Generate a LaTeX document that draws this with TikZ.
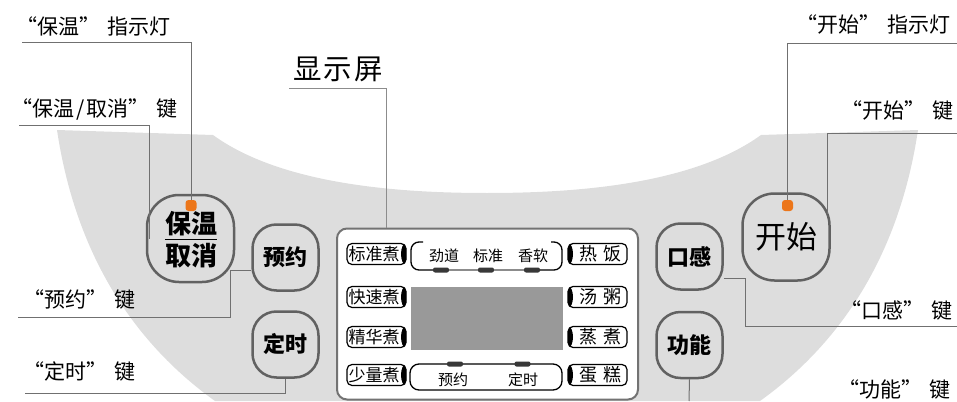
\documentclass[tikz,border=0pt]{standalone}
\usepackage{fontspec}
\setmainfont{Noto Sans CJK SC}
\usetikzlibrary{positioning}

\definecolor{panelgray}{RGB}{221,221,221}
\definecolor{ledorange}{RGB}{236,118,26}
\definecolor{linegray}{RGB}{112,112,112}

\newcommand{\lblfont}{\fontsize{21}{24}\selectfont}
\newcommand{\titlefont}{\fontsize{28.5}{32}\selectfont}
\newcommand{\btnfont}{\bfseries\fontsize{22}{26}\selectfont}
\newcommand{\bigbtnfont}{\bfseries\fontsize{26}{30}\selectfont}
\newcommand{\startfont}{\fontsize{31}{36}\selectfont}
\newcommand{\keyfont}{\fontsize{17}{20}\selectfont}
\newcommand{\modefont}{\fontsize{15}{18}\selectfont}
\newcommand{\qgap}{\kern7pt}

\begin{document}
\begin{tikzpicture}[x=1pt,y=-1pt,
        lead/.style={draw=linegray, line width=1pt},
        lbl/.style={inner sep=0pt, font=\lblfont},
        btn/.style={draw=black!62, line width=2.5pt, rounded corners=24pt,
            minimum width=66pt, minimum height=66pt, inner sep=0pt, font=\btnfont},
        bigbtn/.style={btn, rounded corners=32pt, minimum width=87pt, minimum height=87pt},
        led/.style={fill=ledorange, rounded corners=3pt, minimum width=11pt,
            minimum height=11pt, inner sep=0pt},
        lkey/.style={draw, line width=1.2pt, rounded corners=5pt, minimum width=59pt,
            minimum height=21pt, inner sep=0pt, font=\keyfont,
            path picture={\fill[black] (path picture bounding box.east) ellipse (5pt and 11pt);}},
        rkey/.style={lkey,
            path picture={\fill[black] (path picture bounding box.west) ellipse (5pt and 11pt);}},
        bar/.style={fill=black!78, rounded corners=2pt, minimum width=16pt,
            minimum height=5pt, inner sep=0pt},
        dtxt/.style={inner sep=0pt, font=\modefont}]
    \useasboundingbox (0,0) rectangle (957,401);

    % Draw panel
    \fill[panelgray] (57,130) -- (213,135)
        .. controls (282,185) and (400,193) .. (487,193)
        .. controls (574,193) and (692,185) .. (761,135) -- (918,130)
        .. controls (900,250) and (845,340) .. (760,401) -- (215,401)
        .. controls (130,340) and (75,250) .. (57,130) -- cycle;

    % Buttons
    \node[bigbtn] (bw) at (190.5,238.5) {};
    \node[inner sep=0pt, font=\bigbtnfont] (bw_top) at (191,224) {保温};
    \node[inner sep=0pt, font=\bigbtnfont, below=7pt of bw_top] (bw_bot) {取消};
    \draw[line width=1.6pt] ([yshift=-3pt]bw_top.south west) -- ([yshift=-3pt]bw_top.south east);
    \node[btn] (yy) at (285.5,257.5) {预约};
    \node[btn] (ds) at (285.5,344.5) {定时};
    \node[btn] (kg) at (689.5,256.5) {口感};
    \node[btn] (gn) at (689.5,345) {功能};
    \node[bigbtn, font=\startfont] (ks) at (786,237) {开始};
    \node[led] (dot_bw) at (191,205.5) {};
    \node[led] (dot_ks) at (787.5,205.5) {};

    % Display
    \node[draw=black!55, line width=2pt, rounded corners=10pt, fill=white,
        minimum width=301pt, minimum height=171pt] (disp) at (487.5,314) {};
    \node[fill=black!40, minimum width=152pt, minimum height=63pt, inner sep=0pt] (screen) at (487,318.5) {};

    \foreach \t/\y [count=\i] in {标准煮/254, 快速煮/297, 精华煮/337, 少量煮/375}
       {
            \node[lkey] (lk_\i) at (376.5,\y) {\t\kern5pt};
       }

    \foreach \a/\b/\y [count=\i] in {热/饭/254, 汤/粥/297, 蒸/煮/337, 蛋/糕/375}
       {
            \node[rkey, font=\fontsize{18}{20}\selectfont] (rk_\i) at (597.5,\y) {\kern5pt\a\kern6pt\b};
       }

    % Texture selector
    \foreach \t/\x/\lx [count=\i] in {劲道/444/441, 标准/488/486, 香软/533/532}
       {
            \node[dtxt] (mode_\i) at (\x,256) {\t};
            \node[bar] (mbar_\i) at (\lx,270) {};
       }
    \draw[line width=1.3pt, rounded corners=8pt] (423,242) -- (411,242) -- (411,270) -- (mbar_1.west);
    \draw[line width=1.3pt, rounded corners=8pt] (551,242) -- (562,242) -- (562,270) -- (mbar_3.east);
    \draw[black!45, line width=1.6pt] (mbar_1) -- (mbar_2) -- (mbar_3);

    % Timer indicators
    \node[draw, line width=1.3pt, rounded corners=9pt, minimum width=152pt,
        minimum height=26pt] (tpill) at (486,377) {};
    \node[bar] (tbar_1) at (455,364) {};
    \node[bar] (tbar_2) at (522.5,364) {};
    \node[dtxt] (tm_1) at (453,379.5) {预约};
    \node[dtxt] (tm_2) at (523,379.5) {定时};

    % Labels
    \node[lbl, anchor=west] (l_bwled) at (16,26) {“保温”\qgap 指示灯};
    \node[lbl, anchor=west] (l_bw) at (11,109) {“保温\kern2pt/\kern2pt取消”\qgap 键};
    \node[lbl, anchor=west] (l_yy) at (23,299) {“预约”\qgap 键};
    \node[lbl, anchor=west] (l_ds) at (23,371) {“定时”\qgap 键};
    \node[inner sep=0pt, font=\titlefont] (l_disp) at (338,69.5) {显\kern2pt示\kern2pt屏};
    \node[lbl, anchor=east] (l_ksled) at (951,24) {“开始”\qgap 指示灯};
    \node[lbl, anchor=east] (l_ks) at (954,110) {“开始”\qgap 键};
    \node[lbl, anchor=east] (l_kg) at (953,310) {“口感”\qgap 键};
    \node[lbl, anchor=east] (l_gn) at (951,389) {“功能”\qgap 键};

    % Leaders
    \coordinate (c_bwled) at (22,43);
    \coordinate (c_bw) at (19,125);
    \coordinate (c_yy) at (18,317);
    \coordinate (c_ds) at (25,393);
    \coordinate (c_disp) at (289,89);
    \coordinate (c_ksled) at (957,44);
    \coordinate (c_ks) at (957,133);
    \coordinate (c_kg) at (957,326);
    \coordinate (c_gn) at (689,401);
    \draw[lead] (c_bwled) -| (dot_bw);
    \draw[lead] (c_bw) -| ([xshift=4pt]bw.west);
    \draw[lead] (c_yy) -- ++(212,0) |- ([yshift=-13pt]yy.west);
    \draw[lead] (c_ds) -| (ds.south);
    \draw[lead, draw=black!45] (c_disp) -| ([xshift=50pt]disp.north west);
    \draw[lead] (c_ksled) -| (dot_ks);
    \draw[lead] (c_ks) -| ([xshift=-3pt,yshift=23pt]ks.east);
    \draw[lead] ([yshift=-22pt]kg.east) -- ++(22,0) |- (c_kg);
    \draw[lead] (gn.south) -- (c_gn);
\end{tikzpicture}
\end{document}
